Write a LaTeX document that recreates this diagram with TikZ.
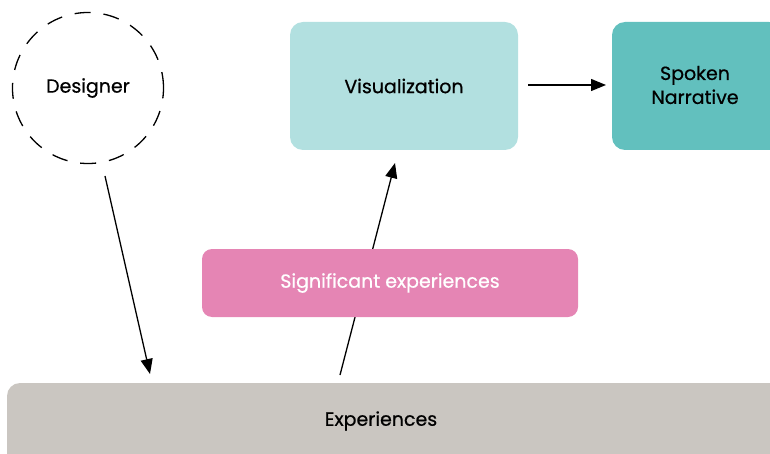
\documentclass[tikz,border=0pt]{standalone}
\usepackage{fontspec}
\setmainfont{Poppins}[FakeBold=0.6,UprightFont=*,BoldFont=*]
\usetikzlibrary{arrows.meta}
\definecolor{vislight}{HTML}{B2E0E0}
\definecolor{spoken}{HTML}{62C0BE}
\definecolor{signif}{HTML}{E585B4}
\definecolor{exper}{HTML}{CAC6C1}

\begin{document}
\begin{tikzpicture}[x=1pt,y=-1pt,
        box/.style={rounded corners=13pt, inner sep=0pt, font=\fontsize{19}{24}\selectfont\bfseries, align=center},
        lbl/.style={font=\fontsize{19}{24}\selectfont\bfseries, align=center},
        arr/.style={-{Triangle[length=15pt,width=12pt]}, line width=1.3pt}]
        \useasboundingbox (0,0) rectangle (770,454);
        \clip (0,0) rectangle (770,454);
        \node[draw, circle, dashed, dash pattern=on 16pt off 13pt, line width=1.3pt, minimum size=151pt, lbl] (designer) at (88,88) {\raisebox{-1pt}{Designer}};
        \node[box, fill=vislight, minimum width=228pt, minimum height=128pt] (vis) at (404,86) {\raisebox{-2pt}{Visualization}};
        \node[box, fill=spoken, minimum width=170pt, minimum height=128pt] (spoken) at (697,86) {};
        \node[lbl] (spokenlabel) at (695,85) {Spoken\\Narrative};
        \coordinate (d0) at (105,176);
        \coordinate (d1) at (150,374);
        \coordinate (e0) at (340,375);
        \coordinate (v0) at (395,163);
        \coordinate (s0) at (528,85);
        \coordinate (s1) at (606,85);
        \draw[arr] (d0) -- (d1);
        \draw[arr] (e0) -- (v0);
        \draw[arr] (s0) -- (s1);
        \node[box, fill=signif, text=white, rounded corners=10pt, minimum width=376pt, minimum height=68pt] (sig) at (390,283) {\raisebox{-2pt}{Significant experiences}};
        \node[box, fill=exper, minimum width=780pt, minimum height=100pt] (exp) at (397,433) {};
        \node[lbl] (explabel) at (381,421) {Experiences};
\end{tikzpicture}
\end{document}
